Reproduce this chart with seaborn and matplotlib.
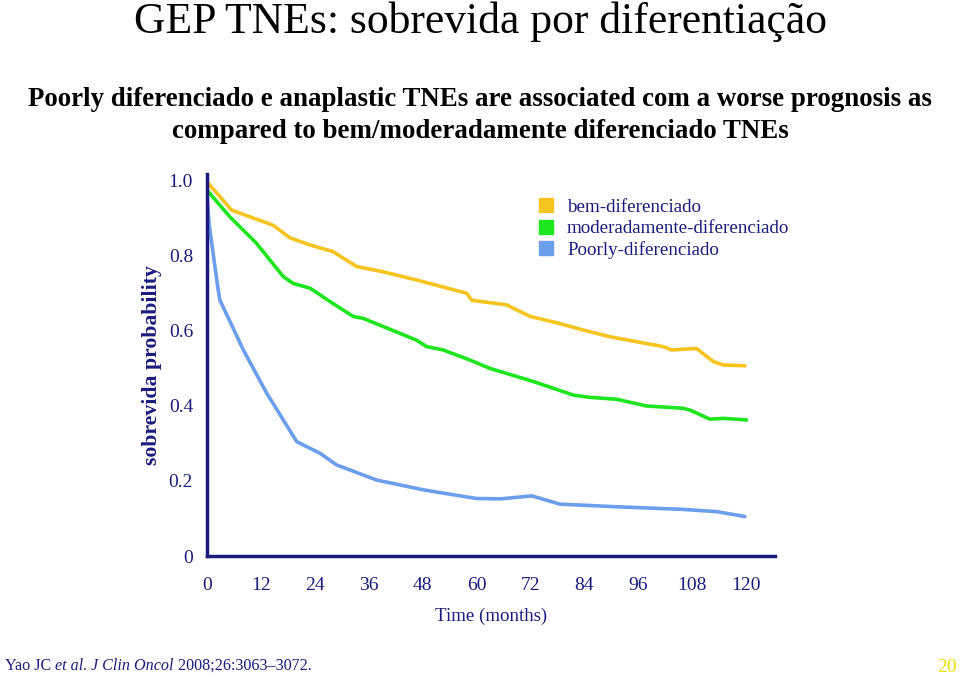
import pandas as pd
import matplotlib.pyplot as plt
import seaborn as sns
from matplotlib.lines import Line2D

# --- data ---
GROUPS = ['bem-diferenciado', 'moderadamente-diferenciado', 'Poorly-diferenciado']
COLORS = ['#F5C41E', '#1EE61E', '#6B9EEB']

bem_months = [0, 5.5, 9.6, 14.7, 18.5, 23, 28, 33.3, 39.2, 46.7, 57.8, 59, 66.7, 72,
              78, 83.8, 89.8, 95.7, 101.6, 103.5, 109, 112.8, 115, 119.8]
bem_surv = [0.995, 0.92, 0.902, 0.88, 0.846, 0.827, 0.81, 0.77, 0.756, 0.734, 0.699, 0.68,
            0.668, 0.637, 0.62, 0.601, 0.583, 0.57, 0.557, 0.548, 0.552, 0.517, 0.508, 0.506]

mod_months = [0, 5.1, 11, 17, 19.2, 23, 28, 32.6, 34.8, 39.3, 46.7, 48.9, 52.6, 58.6, 63,
              72.7, 81.6, 85.3, 91.2, 97.9, 106, 107.6, 112, 115, 120.2]
mod_surv = [0.973, 0.902, 0.832, 0.743, 0.725, 0.712, 0.672, 0.637, 0.632, 0.61, 0.574,
            0.557, 0.548, 0.521, 0.499, 0.464, 0.428, 0.422, 0.417, 0.399, 0.393, 0.388,
            0.364, 0.366, 0.362]

poor_months = [0, 0.5, 2.5, 2.9, 8.1, 13.3, 20, 25.2, 28.9, 37.8, 48.2, 60, 65.3, 72.3,
               78.6, 91.2, 106, 113.5, 119.8]
poor_surv = [0.96, 0.88, 0.707, 0.68, 0.548, 0.433, 0.304, 0.273, 0.242, 0.202, 0.176,
             0.153, 0.152, 0.16, 0.138, 0.131, 0.124, 0.118, 0.105]

X_TICKS = [0, 12, 24, 36, 48, 60, 72, 84, 96, 108, 120]
Y_TICKS = [0, 0.2, 0.4, 0.6, 0.8, 1.0]
Y_TICKLABELS = ['0', '0.2', '0.4', '0.6', '0.8', '1.0']

NAVY = '#1b1b7d'

df = pd.concat([
    pd.DataFrame({'months': bem_months, 'surv': bem_surv, 'grupo': GROUPS[0]}),
    pd.DataFrame({'months': mod_months, 'surv': mod_surv, 'grupo': GROUPS[1]}),
    pd.DataFrame({'months': poor_months, 'surv': poor_surv, 'grupo': GROUPS[2]}),
])

sns.set_style('white')
plt.rcParams['font.family'] = ['Liberation Serif', 'DejaVu Serif']

fig = plt.figure(figsize=(9.6, 6.77), dpi=100)
ax = fig.add_axes([0.2156, 0.1787, 0.5917, 0.5643])

sns.lineplot(data=df, x='months', y='surv', hue='grupo', palette=dict(zip(GROUPS, COLORS)),
             estimator=None, sort=False, linewidth=2.6, legend=False, ax=ax)

ax.set_xlim(0, 126.5)
ax.set_ylim(0, 1.016)
ax.set_xticks(X_TICKS)
ax.set_yticks(Y_TICKS)
ax.set_yticklabels(Y_TICKLABELS)
ax.tick_params(axis='both', direction='out', length=6, width=2, color=NAVY,
               labelcolor=NAVY, labelsize=14)
ax.tick_params(axis='x', pad=9)
ax.tick_params(axis='y', pad=4)
for side in ['top', 'right']:
    ax.spines[side].set_visible(False)
for side in ['left', 'bottom']:
    ax.spines[side].set_color(NAVY)
    ax.spines[side].set_linewidth(2.5)

ax.set_xlabel('Time (months)', color=NAVY, fontsize=13.6, labelpad=10)
ax.set_ylabel('sobrevida probability', color=NAVY, fontsize=15.7, fontweight='bold', labelpad=5)

handles = [Line2D([], [], marker='s', linestyle='', markersize=10, color=c) for c in COLORS]
ax.legend(handles, GROUPS, loc='upper left', bbox_to_anchor=(0.567, 0.955), frameon=False,
          fontsize=13.7, labelcolor=NAVY, handletextpad=0.6, labelspacing=0.2,
          handlelength=1.0, borderaxespad=0)

fig.text(0.5, 0.968, 'GEP TNEs: sobrevida por diferentiação', ha='center', va='center',
         fontsize=31.4, color='black')
fig.text(0.5, 0.853, 'Poorly diferenciado e anaplastic TNEs are associated com a worse prognosis as',
         ha='center', va='center', fontsize=19.4, fontweight='bold', color='black')
fig.text(0.5, 0.806, 'compared to bem/moderadamente diferenciado TNEs',
         ha='center', va='center', fontsize=19.4, fontweight='bold', color='black')

# footnote with italic pieces
pieces = [('Yao JC ', 'normal'), ('et al', 'italic'), ('. ', 'normal'),
          ('J Clin Oncol', 'italic'), (' 2008;26:3063–3072.', 'normal')]
prev = fig.text(0.005, 0.005, pieces[0][0], ha='left', va='bottom', fontsize=11.6,
                color=NAVY, style=pieces[0][1])
for txt, st in pieces[1:]:
    prev = ax.annotate(txt, xy=(1, 0), xycoords=prev, ha='left', va='bottom',
                       fontsize=11.6, color=NAVY, style=st, annotation_clip=False)

fig.text(0.997, 0.001, '20', ha='right', va='bottom', fontsize=14, color='#E8E000')

fig.savefig('out.png', dpi=100)
